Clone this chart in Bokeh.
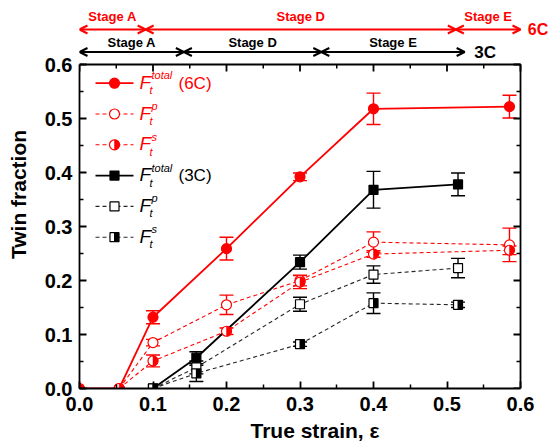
import numpy as np
from bokeh.plotting import figure
from bokeh.models import (Range1d, FixedTicker, Whisker, TeeHead,
                          ColumnDataSource, Arrow, OpenHead, Label, NumeralTickFormatter)
from bokeh.transform import dodge
from bokeh.embed import file_html
from bokeh.resources import INLINE
from bokeh.core.properties import value

# ---------------- data ----------------
strain_6c = [0.0, 0.054, 0.1, 0.2, 0.3, 0.4, 0.585]
total_6c = [0.0, 0.0, 0.132, 0.259, 0.392, 0.518, 0.522]
total_6c_err = [0, 0, 0.012, 0.021, 0.007, 0.029, 0.021]

strain_6c_ps = [0.054, 0.1, 0.2, 0.3, 0.4, 0.585]
p_6c = [0.0, 0.085, 0.155, 0.200, 0.271, 0.266]
p_6c_err = [0, 0.006, 0.018, 0.010, 0.019, 0.031]
s_6c = [0.0, 0.051, 0.106, 0.197, 0.249, 0.256]
s_6c_err = [0, 0.011, 0.006, 0.012, 0.006, 0.008]

strain_3c = [0.1, 0.159, 0.3, 0.4, 0.515]
total_3c = [0.0, 0.057, 0.234, 0.368, 0.378]
total_3c_err = [0, 0.011, 0.013, 0.034, 0.021]
p_3c = [0.0, 0.039, 0.156, 0.211, 0.223]
p_3c_err = [0, 0.012, 0.013, 0.016, 0.018]
s_3c = [0.0, 0.028, 0.082, 0.158, 0.155]
s_3c_err = [0, 0.015, 0.004, 0.019, 0.005]

stage_6c_bounds = [0.0, 0.09, 0.512, 0.6]
stage_6c_names = ["Stage A", "Stage D", "Stage E"]
stage_3c_bounds = [0.0, 0.142, 0.329, 0.524]
stage_3c_names = ["Stage A", "Stage D", "Stage E"]

major_ticks = [0.0, 0.1, 0.2, 0.3, 0.4, 0.5, 0.6]
minor_ticks = [0.05, 0.15, 0.25, 0.35, 0.45, 0.55]

legend_sup = ["total", "p", "s", "total", "p", "s"]
legend_suffix = ["(6C)", "", "", "(3C)", "", ""]

# ---------------- layout constants (pixels) ----------------
RED = "#ff0000"
BLK = "#000000"
DBLK = "#262626"
FONT = "Liberation Sans"
AX_MAX = 0.6                 # end of both axes
BOX_W, BOX_H = 441, 324      # size of the axes box
LEFT = 79                    # left edge of the axes box
BOX_TOP = 64                 # top edge of the axes box
TOTAL_W = 550
FRAME_W = TOTAL_W - LEFT     # drawing area reaches the right edge (room for "6C")
FRAME_H = BOX_TOP + BOX_H    # drawing area reaches the top edge (room for stage arrows)
PPU_X = BOX_W / AX_MAX
PPU_Y = BOX_H / AX_MAX


def y_of_px(py):
    """data y of a pixel row measured from the top of the page"""
    return (FRAME_H - py) / PPU_Y


p = figure(frame_width=FRAME_W, frame_height=FRAME_H,
           x_range=Range1d(0, FRAME_W / PPU_X), y_range=Range1d(0, FRAME_H / PPU_Y),
           output_backend="svg", toolbar_location=None,
           min_border_left=LEFT, min_border_right=0, min_border_top=0, min_border_bottom=40)
p.xgrid.visible = False
p.ygrid.visible = False
p.outline_line_color = None
p.background_fill_color = "white"
p.border_fill_color = "white"

# real left and bottom axes, limited to the 0..0.6 box
for ax in (p.xaxis[0], p.yaxis[0]):
    ax.bounds = (0, AX_MAX)
    ax.ticker = FixedTicker(ticks=major_ticks, minor_ticks=minor_ticks)
    ax.formatter = NumeralTickFormatter(format="0.0")
    ax.axis_line_width = 1.8
    ax.major_tick_line_width = 1.8
    ax.minor_tick_line_width = 1.5
    ax.major_tick_in = 7
    ax.major_tick_out = 0
    ax.minor_tick_in = 4
    ax.minor_tick_out = 0
    ax.major_label_text_font = FONT
    ax.major_label_text_font_style = "bold"
    ax.major_label_text_font_size = "20px"
    ax.major_label_text_color = "black"
    ax.axis_label_text_font = FONT
    ax.axis_label_text_font_style = "bold"
    ax.axis_label_text_font_size = "21px"
    ax.axis_label_text_color = "black"
p.xaxis[0].axis_label = "True strain, ε"
p.yaxis[0].axis_label = "Twin fraction"
p.xaxis[0].axis_label_standoff = 5
p.xaxis[0].major_label_standoff = 8
p.yaxis[0].axis_label_standoff = 12
p.yaxis[0].major_label_standoff = 7

# top and right edges of the box with inward ticks (mirror of the real axes)
p.line([0, AX_MAX, AX_MAX], [AX_MAX, AX_MAX, 0], line_color="black", line_width=1.8)
for ticks, length, lw in ((major_ticks, 7, 1.8), (minor_ticks, 4, 1.5)):
    n = len(ticks)
    p.segment(x0=ticks, y0=[AX_MAX] * n, x1=ticks, y1=[AX_MAX - length / PPU_Y] * n,
              line_color="black", line_width=lw)
    p.segment(x0=[AX_MAX] * n, y0=ticks, x1=[AX_MAX - length / PPU_X] * n, y1=ticks,
              line_color="black", line_width=lw)


# ---------------- helpers ----------------
def add_err(xs, ys, es, color):
    keep = [i for i, e in enumerate(es) if e > 0]
    src = ColumnDataSource(dict(x=[xs[i] for i in keep],
                                lo=[ys[i] - es[i] for i in keep],
                                hi=[ys[i] + es[i] for i in keep]))
    w = Whisker(source=src, base="x", lower="lo", upper="hi", line_color=color, line_width=1.4,
                upper_head=TeeHead(size=14, line_color=color, line_width=1.4),
                lower_head=TeeHead(size=14, line_color=color, line_width=1.4),
                level="underlay")
    p.add_layout(w)


def draw_marker(xs, ys, kind, color, xr, unit_px, **rng):
    if kind == "circle_full":
        p.scatter(xs, ys, marker="circle", size=10, fill_color=color, line_color=color, line_width=1.2, **rng)
    elif kind == "circle_open":
        p.scatter(xs, ys, marker="circle", size=10, fill_color="white", line_color=color, line_width=1.2, **rng)
    elif kind == "circle_half":
        p.scatter(xs, ys, marker="circle", size=10, fill_color="white", line_color=color, line_width=1.2, **rng)
        p.wedge(xs, ys, radius=5, radius_units="screen", start_angle=-np.pi / 2, end_angle=np.pi / 2,
                fill_color=color, line_color=color, line_width=0.5, **rng)
    elif kind == "square_full":
        p.scatter(xs, ys, marker="square", size=9, fill_color=color, line_color=color, line_width=1.2, **rng)
    elif kind == "square_open":
        p.scatter(xs, ys, marker="square", size=9, fill_color="white", line_color=color, line_width=1.2, **rng)
    elif kind == "square_half":
        p.scatter(xs, ys, marker="square", size=9, fill_color="white", line_color=color, line_width=1.2, **rng)
        src = ColumnDataSource(dict(x=xs, y=ys))
        p.rect(x=dodge("x", 2.0 / unit_px, range=xr), y="y", width=5, height=9, width_units="screen",
               height_units="screen", fill_color=color, line_color=None, source=src, **rng)


series = [
    (strain_6c, total_6c, total_6c_err, RED, "solid", 1.8, "circle_full"),
    (strain_6c_ps, p_6c, p_6c_err, RED, "4 3", 1.1, "circle_open"),
    (strain_6c_ps, s_6c, s_6c_err, RED, "4 3", 1.1, "circle_half"),
    (strain_3c, total_3c, total_3c_err, BLK, "solid", 1.8, "square_full"),
    (strain_3c, p_3c, p_3c_err, DBLK, "4 3", 1.1, "square_open"),
    (strain_3c, s_3c, s_3c_err, DBLK, "4 3", 1.1, "square_half"),
]

for xs, ys, es, color, dash, lw, kind in series:
    p.line(xs, ys, line_color=color, line_dash=dash, line_width=lw)
for xs, ys, es, color, dash, lw, kind in series:
    add_err(xs, ys, es, RED if color == RED else BLK)
for xs, ys, es, color, dash, lw, kind in series:
    draw_marker(xs, ys, kind, RED if color == RED else BLK, p.x_range, PPU_X)

# ---------------- legend (pixel coordinates) ----------------
p.extra_x_ranges = {"lx": Range1d(0, FRAME_W)}
p.extra_y_ranges = {"ly": Range1d(FRAME_H, 0)}
rng = dict(x_range_name="lx", y_range_name="ly")
row0, row_step = BOX_TOP + 18.7, 30.8
for k, (xs, ys, es, color, dash, lw, kind) in enumerate(series):
    ry = row0 + row_step * k
    tc = RED if color == RED else BLK
    p.line([16, 54], [ry, ry], line_color=color, line_dash=dash, line_width=lw, **rng)
    draw_marker([35], [ry], kind, tc, p.extra_x_ranges["lx"], 1.0, **rng)
    p.text([60], [ry - 1], text=["F"], text_font=value(FONT), text_font_style="italic",
           text_font_size="19px", text_color=tc, text_baseline="middle", **rng)
    p.text([72], [ry - 8], text=[legend_sup[k]], text_font=value(FONT), text_font_style="italic",
           text_font_size="11px", text_color=tc, text_baseline="middle", **rng)
    p.text([70], [ry + 7], text=["t"], text_font=value(FONT), text_font_style="italic",
           text_font_size="11px", text_color=tc, text_baseline="middle", **rng)
    if legend_suffix[k]:
        p.text([99], [ry], text=[legend_suffix[k]], text_font=value(FONT),
               text_font_size="17px", text_color=tc, text_baseline="middle", **rng)


# ---------------- stage arrows above the box ----------------
def stage_row(bounds, names, color, py_arrow, py_text, tag, tag_x, tag_size):
    for i, name in enumerate(names):
        a = Arrow(x_start=bounds[i], y_start=y_of_px(py_arrow), x_end=bounds[i + 1],
                  y_end=y_of_px(py_arrow), line_color=color, line_width=2,
                  start=OpenHead(size=8, line_color=color, line_width=2),
                  end=OpenHead(size=8, line_color=color, line_width=2))
        p.add_layout(a)
        p.add_layout(Label(x=(bounds[i] + bounds[i + 1]) / 2, y=y_of_px(py_text), text=name,
                           text_align="center", text_baseline="middle", text_color=color,
                           text_font=FONT, text_font_style="bold", text_font_size="13px"))
    p.add_layout(Label(x=tag_x, y=y_of_px(py_arrow), text=tag, text_align="left",
                       text_baseline="middle", text_color=color, text_font=FONT,
                       text_font_style="bold", text_font_size=tag_size))


stage_row(stage_6c_bounds, stage_6c_names, RED, 29, 16, "6C", 0.61, "16px")
stage_row(stage_3c_bounds, stage_3c_names, BLK, 51.5, 41.5, "3C", 0.537, "17px")

open("out.html", "w").write(file_html(p, INLINE))
